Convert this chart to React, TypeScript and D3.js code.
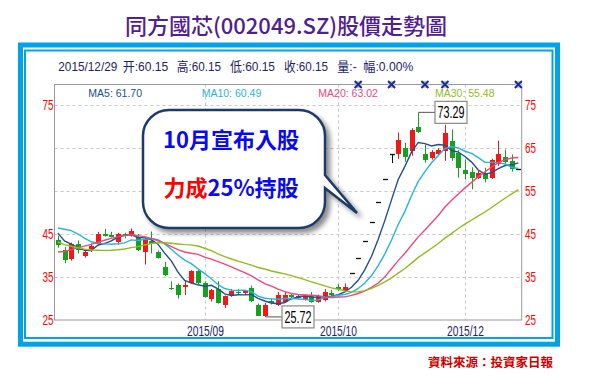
import React from 'react';
import * as d3 from 'd3';

// ---- data ----
const opens = [43.5, 41.2, 39.1, 42.7, 40.0, 41.4, 42.7, 45.0, 44.8, 43.1, 45.0, 44.6, 44.2, 40.8, 43.3, 40.8, 37.3, 32.4, 33.1, 32.6, 33.6, 36.3, 33.5, 29.8, 32.3, 28.5, 30.9, 31.6, 31.2, 32.5, 28.6, 26.0, 29.4, 28.5, 29.1, 30.7, 30.2, 29.7, 30.8, 29.2, 29.7, 31.2, 32.6, 31.7, 35.86, 39.45, 43.40, 47.74, 52.51, 57.76, 63.54, 63.6, 65.0, 64.3, 69.9, 63.7, 62.6, 63.6, 64.3, 66.6, 63.9, 60.0, 59.5, 58.1, 59.3, 58.1, 61.2, 62.8, 61.9, 60.15];
const highs = [44.6, 42.0, 43.0, 43.5, 41.5, 42.8, 45.5, 46.2, 45.5, 45.3, 45.3, 46.3, 45.0, 44.2, 45.6, 41.2, 38.5, 34.0, 33.5, 34.2, 36.6, 36.6, 34.0, 32.2, 34.0, 30.7, 32.2, 32.2, 32.0, 33.0, 28.8, 29.0, 29.9, 31.5, 31.5, 31.2, 31.0, 31.0, 31.5, 30.9, 32.2, 32.0, 33.3, 33.5, 35.86, 39.45, 43.40, 47.74, 52.51, 57.76, 63.54, 68.6, 66.2, 69.6, 73.29, 65.8, 64.5, 65.0, 70.4, 69.3, 64.5, 62.3, 60.5, 59.7, 60.4, 62.5, 66.7, 64.6, 63.5, 60.15];
const lows = [41.8, 38.2, 38.8, 40.5, 39.5, 40.8, 42.3, 44.4, 44.2, 42.5, 44.0, 44.4, 41.0, 37.9, 40.5, 39.3, 35.2, 32.0, 30.0, 30.8, 33.4, 33.3, 30.2, 29.3, 28.8, 27.8, 30.4, 31.0, 30.8, 29.2, 25.9, 25.72, 28.6, 28.3, 29.0, 30.0, 30.0, 29.5, 29.0, 29.0, 29.3, 30.5, 31.8, 31.5, 35.86, 39.45, 43.40, 47.74, 52.51, 57.76, 61.5, 62.5, 61.8, 63.2, 68.5, 61.6, 62.3, 63.3, 62.0, 62.0, 58.1, 57.7, 55.4, 57.8, 57.0, 57.8, 60.8, 60.8, 59.5, 60.15];
const closes = [42.4, 38.9, 42.7, 41.2, 40.8, 42.3, 45.0, 44.6, 44.4, 44.9, 44.6, 45.8, 41.3, 43.9, 42.7, 39.5, 35.4, 32.2, 30.8, 33.1, 36.3, 33.6, 30.4, 31.9, 29.0, 30.5, 31.7, 31.3, 31.7, 29.5, 26.0, 28.6, 29.0, 30.8, 30.9, 30.4, 30.6, 30.5, 29.3, 30.5, 31.4, 30.9, 32.3, 32.6, 35.86, 39.45, 43.40, 47.74, 52.51, 57.76, 63.54, 66.8, 63.0, 69.3, 68.8, 62.2, 64.1, 64.6, 68.5, 62.7, 60.4, 58.9, 58.1, 59.3, 57.9, 62.1, 63.6, 61.7, 60.15, 60.15];
// estimated closes before the visible window (needed for the moving averages at the left edge)
const priorCloses = [56, 54, 52, 50.5, 48.5, 46, 45.5, 44, 41.5, 39, 36, 34.5, 33, 32.5, 34, 35.5, 35, 36, 37.5, 38, 41.8, 46, 49, 50.5, 50.7, 48, 46.5, 45.1, 44];

const xTickIndices = [22, 42, 61];
const xTickLabels = ['2015/09', '2015/10', '2015/12'];
const leftTicks = [25, 35, 45, 75];
const rightTicks = [25, 35, 45, 55, 65, 75];
const gridTicks = [35, 45, 55, 65, 75];
const maPeriods = [5, 10, 20, 30];
const maColors = ['#22508a', '#27b4da', '#ea4a7e', '#93bb1f'];
const maLabels = ['MA5: 61.70', 'MA10: 60.49', 'MA20: 63.02', 'MA30: 55.48'];
const markerIndices = [45, 50, 55, 58, 69];
const infoTexts = ['2015/12/29', '开:60.15', '高:60.15', '低:60.15', '收:60.15', '量:-', '幅:0.00%'];
const titleText = '同方國芯(002049.SZ)股價走勢圖';
const calloutLine1 = '10月宣布入股';
const calloutLine2Red = '力成';
const calloutLine2Blue = '25%持股';
const sourceText = '資料來源：投資家日報';

// ---- layout ----
const W = 600, H = 378;
const PL = 54.5, PR = 521.7, PT = 84.5, PB = 320;
const infoX = [58.3, 122.7, 176.7, 230, 284, 337.3, 363.3];
const infoLen = [59, 45.6, 44.3, 45, 44, 19.4, 50];
const maLabelX = [88.3, 201.7, 318.3, 435];

export default function App() {
  const x = d3.scaleBand<number>().domain(d3.range(closes.length)).range([PL, PR]).padding(0);
  const y = d3.scaleLinear().domain([25, 75]).range([PB, 105]);
  const cx = (i: number) => (x(i) as number) + x.bandwidth() / 2;
  const rx = (i: number) => Math.round(cx(i));

  const all = [...priorCloses, ...closes];
  const off = priorCloses.length;
  const maSeries = maPeriods.map((p) =>
    closes.map((_, i) => d3.mean(all.slice(i + off - p + 1, i + off + 1)) as number)
  );
  const line = d3.line<number>().x((_, i) => cx(i)).y((v) => y(v));

  const hiIdx = d3.maxIndex(highs);
  const loIdx = d3.minIndex(lows);
  const annots = [
    { i: hiIdx, v: highs[hiIdx] },
    { i: loIdx, v: lows[loIdx] },
  ];

  // callout bubble
  const bx0 = 143, by0 = 110, bx1 = 325, by1 = 228, r = 26;
  const tail = { a: 175, b: 188, tx: 357, ty: 213 };
  const bubble = `M${bx0 + r},${by0} L${bx1 - r},${by0} A${r},${r} 0 0 1 ${bx1},${by0 + r} L${bx1},${tail.a} L${tail.tx},${tail.ty} L${bx1},${tail.b} L${bx1},${by1 - r} A${r},${r} 0 0 1 ${bx1 - r},${by1} L${bx0 + r},${by1} A${r},${r} 0 0 1 ${bx0},${by1 - r} L${bx0},${by0 + r} A${r},${r} 0 0 1 ${bx0 + r},${by0} Z`;

  const sans = 'Liberation Sans, Arial, Noto Sans CJK SC, sans-serif';

  return (
    <svg width={W} height={H} style={{ position: 'absolute', left: 0, top: 0, display: 'block', background: '#fff' }}>
      <defs>
        <filter id="shadow" x="-20%" y="-20%" width="150%" height="150%">
          <feDropShadow dx="4" dy="4" stdDeviation="2.5" floodColor="#000" floodOpacity="0.45" />
        </filter>
      </defs>

      {/* title */}
      <text x={286} y={34} textAnchor="middle" fontSize={22} fontWeight={500} fill="#51208e" fontFamily="Noto Sans CJK TC, sans-serif">{titleText}</text>

      {/* outer blue frame */}
      <rect x={20.5} y={45} width={537} height={299.2} fill="none" stroke="#00a2e8" strokeWidth={5} />
      <rect x={25} y={50.5} width={527.5} height={287.5} fill="none" stroke="#00a2e8" strokeWidth={2} />

      {/* info line */}
      {infoTexts.map((t, k) => (
        <text key={k} x={infoX[k]} y={70.5} fontSize={13} fill="#1c2469" fontFamily={sans} textLength={infoLen[k]} lengthAdjust="spacingAndGlyphs">{t}</text>
      ))}

      {/* grid */}
      {gridTicks.map((v) => (
        <line key={v} x1={PL} x2={PR} y1={Math.round(y(v)) + 0.5} y2={Math.round(y(v)) + 0.5} stroke="#c8c8c8" strokeDasharray="3,3" />
      ))}
      {xTickIndices.map((i) => (
        <line key={i} x1={rx(i) + 0.5} x2={rx(i) + 0.5} y1={PT} y2={PB} stroke="#c8c8c8" strokeDasharray="3,3" />
      ))}

      {/* plot frame */}
      <rect x={PL} y={PT} width={PR - PL} height={PB - PT} fill="none" stroke="#9a9a9a" strokeWidth={1} />

      {/* axis labels */}
      {leftTicks.map((v) => (
        <text key={v} x={53.5} y={y(v)} dy="0.36em" textAnchor="end" fontSize={14} fill="#ff0000" fontFamily={sans} textLength={11} lengthAdjust="spacingAndGlyphs">{v}</text>
      ))}
      {rightTicks.map((v) => (
        <text key={v} x={525} y={y(v)} dy="0.36em" fontSize={14} fill="#ff0000" fontFamily={sans} textLength={11} lengthAdjust="spacingAndGlyphs">{v}</text>
      ))}
      {xTickIndices.map((i, k) => (
        <text key={i} x={rx(i) + 0.5 - 18.5} y={335.5} fontSize={14} fill="#1c2469" fontFamily={sans} textLength={37} lengthAdjust="spacingAndGlyphs">{xTickLabels[k]}</text>
      ))}

      {/* candles */}
      {closes.map((c, i) => {
        const o = opens[i], h = highs[i], l = lows[i];
        const color = c > o ? '#f21818' : c < o ? '#16a020' : '#111';
        const xc = rx(i);
        const top = Math.round(y(Math.max(o, c)));
        const bot = Math.round(y(Math.min(o, c)));
        return (
          <g key={i}>
            {h !== l && <line x1={xc + 0.5} x2={xc + 0.5} y1={y(h)} y2={y(l)} stroke={color} strokeWidth={1} />}
            {c === o ? (
              <line x1={xc - 2} x2={xc + 3} y1={top + 0.5} y2={top + 0.5} stroke={color} strokeWidth={1.3} />
            ) : (
              <rect x={xc - 2} y={top} width={5} height={Math.max(1, bot - top)} fill={color} />
            )}
          </g>
        );
      })}

      {/* moving averages */}
      {maSeries.map((s, k) => (
        <path key={k} d={line(s) as string} fill="none" stroke={maColors[k]} strokeWidth={1.4} />
      ))}

      {/* MA labels */}
      {maLabels.map((t, k) => (
        <text key={k} x={maLabelX[k]} y={96.5} fontSize={10.5} fill={maColors[k]} fontFamily={sans}>{t}</text>
      ))}

      {/* markers on top frame */}
      {markerIndices.map((i) => {
        const mx = cx(i);
        return (
          <g key={i} transform={`translate(${mx},${PT})`}>
            <rect x={-3.5} y={-3.5} width={7} height={7} fill="#b8c4ee" />
            <path d="M-3.5,-3.5 L3.5,3.5 M3.5,-3.5 L-3.5,3.5" stroke="#1a2c86" strokeWidth={1.8} />
          </g>
        );
      })}

      {/* high/low annotations */}
      {annots.map((a, k) => {
        const ax = rx(a.i) + 0.5;
        const ay = y(a.v);
        const boxX = ax + 16.5;
        return (
          <g key={k}>
            <line x1={ax} x2={boxX} y1={ay} y2={ay} stroke="#555" strokeWidth={1} />
            <rect x={boxX} y={ay - 11} width={32} height={22} fill="#fff" stroke="#888" strokeWidth={1.2} />
            <text x={boxX + 16} y={ay + 6} textAnchor="middle" fontSize={16} fill="#000" fontFamily={sans} textLength={27} lengthAdjust="spacingAndGlyphs">{a.v.toFixed(2)}</text>
          </g>
        );
      })}

      {/* callout */}
      <path d={bubble} fill="#fff" stroke="#1f3a68" strokeWidth={2.5} filter="url(#shadow)" />
      <text x={231} y={148} textAnchor="middle" fontSize={22} fontWeight="bold" fill="#0a0af0" fontFamily="Noto Sans CJK TC, sans-serif">{calloutLine1}</text>
      <text x={231} y={196} textAnchor="middle" fontSize={22} fontWeight="bold" fontFamily="Noto Sans CJK TC, sans-serif">
        <tspan fill="#ff0000">{calloutLine2Red}</tspan>
        <tspan fill="#0a0af0">{calloutLine2Blue}</tspan>
      </text>

      {/* source */}
      <text x={553} y={367} textAnchor="end" fontSize={12.5} fontWeight="bold" fill="#cc0000" fontFamily="Noto Sans CJK TC, sans-serif">{sourceText}</text>
    </svg>
  );
}
